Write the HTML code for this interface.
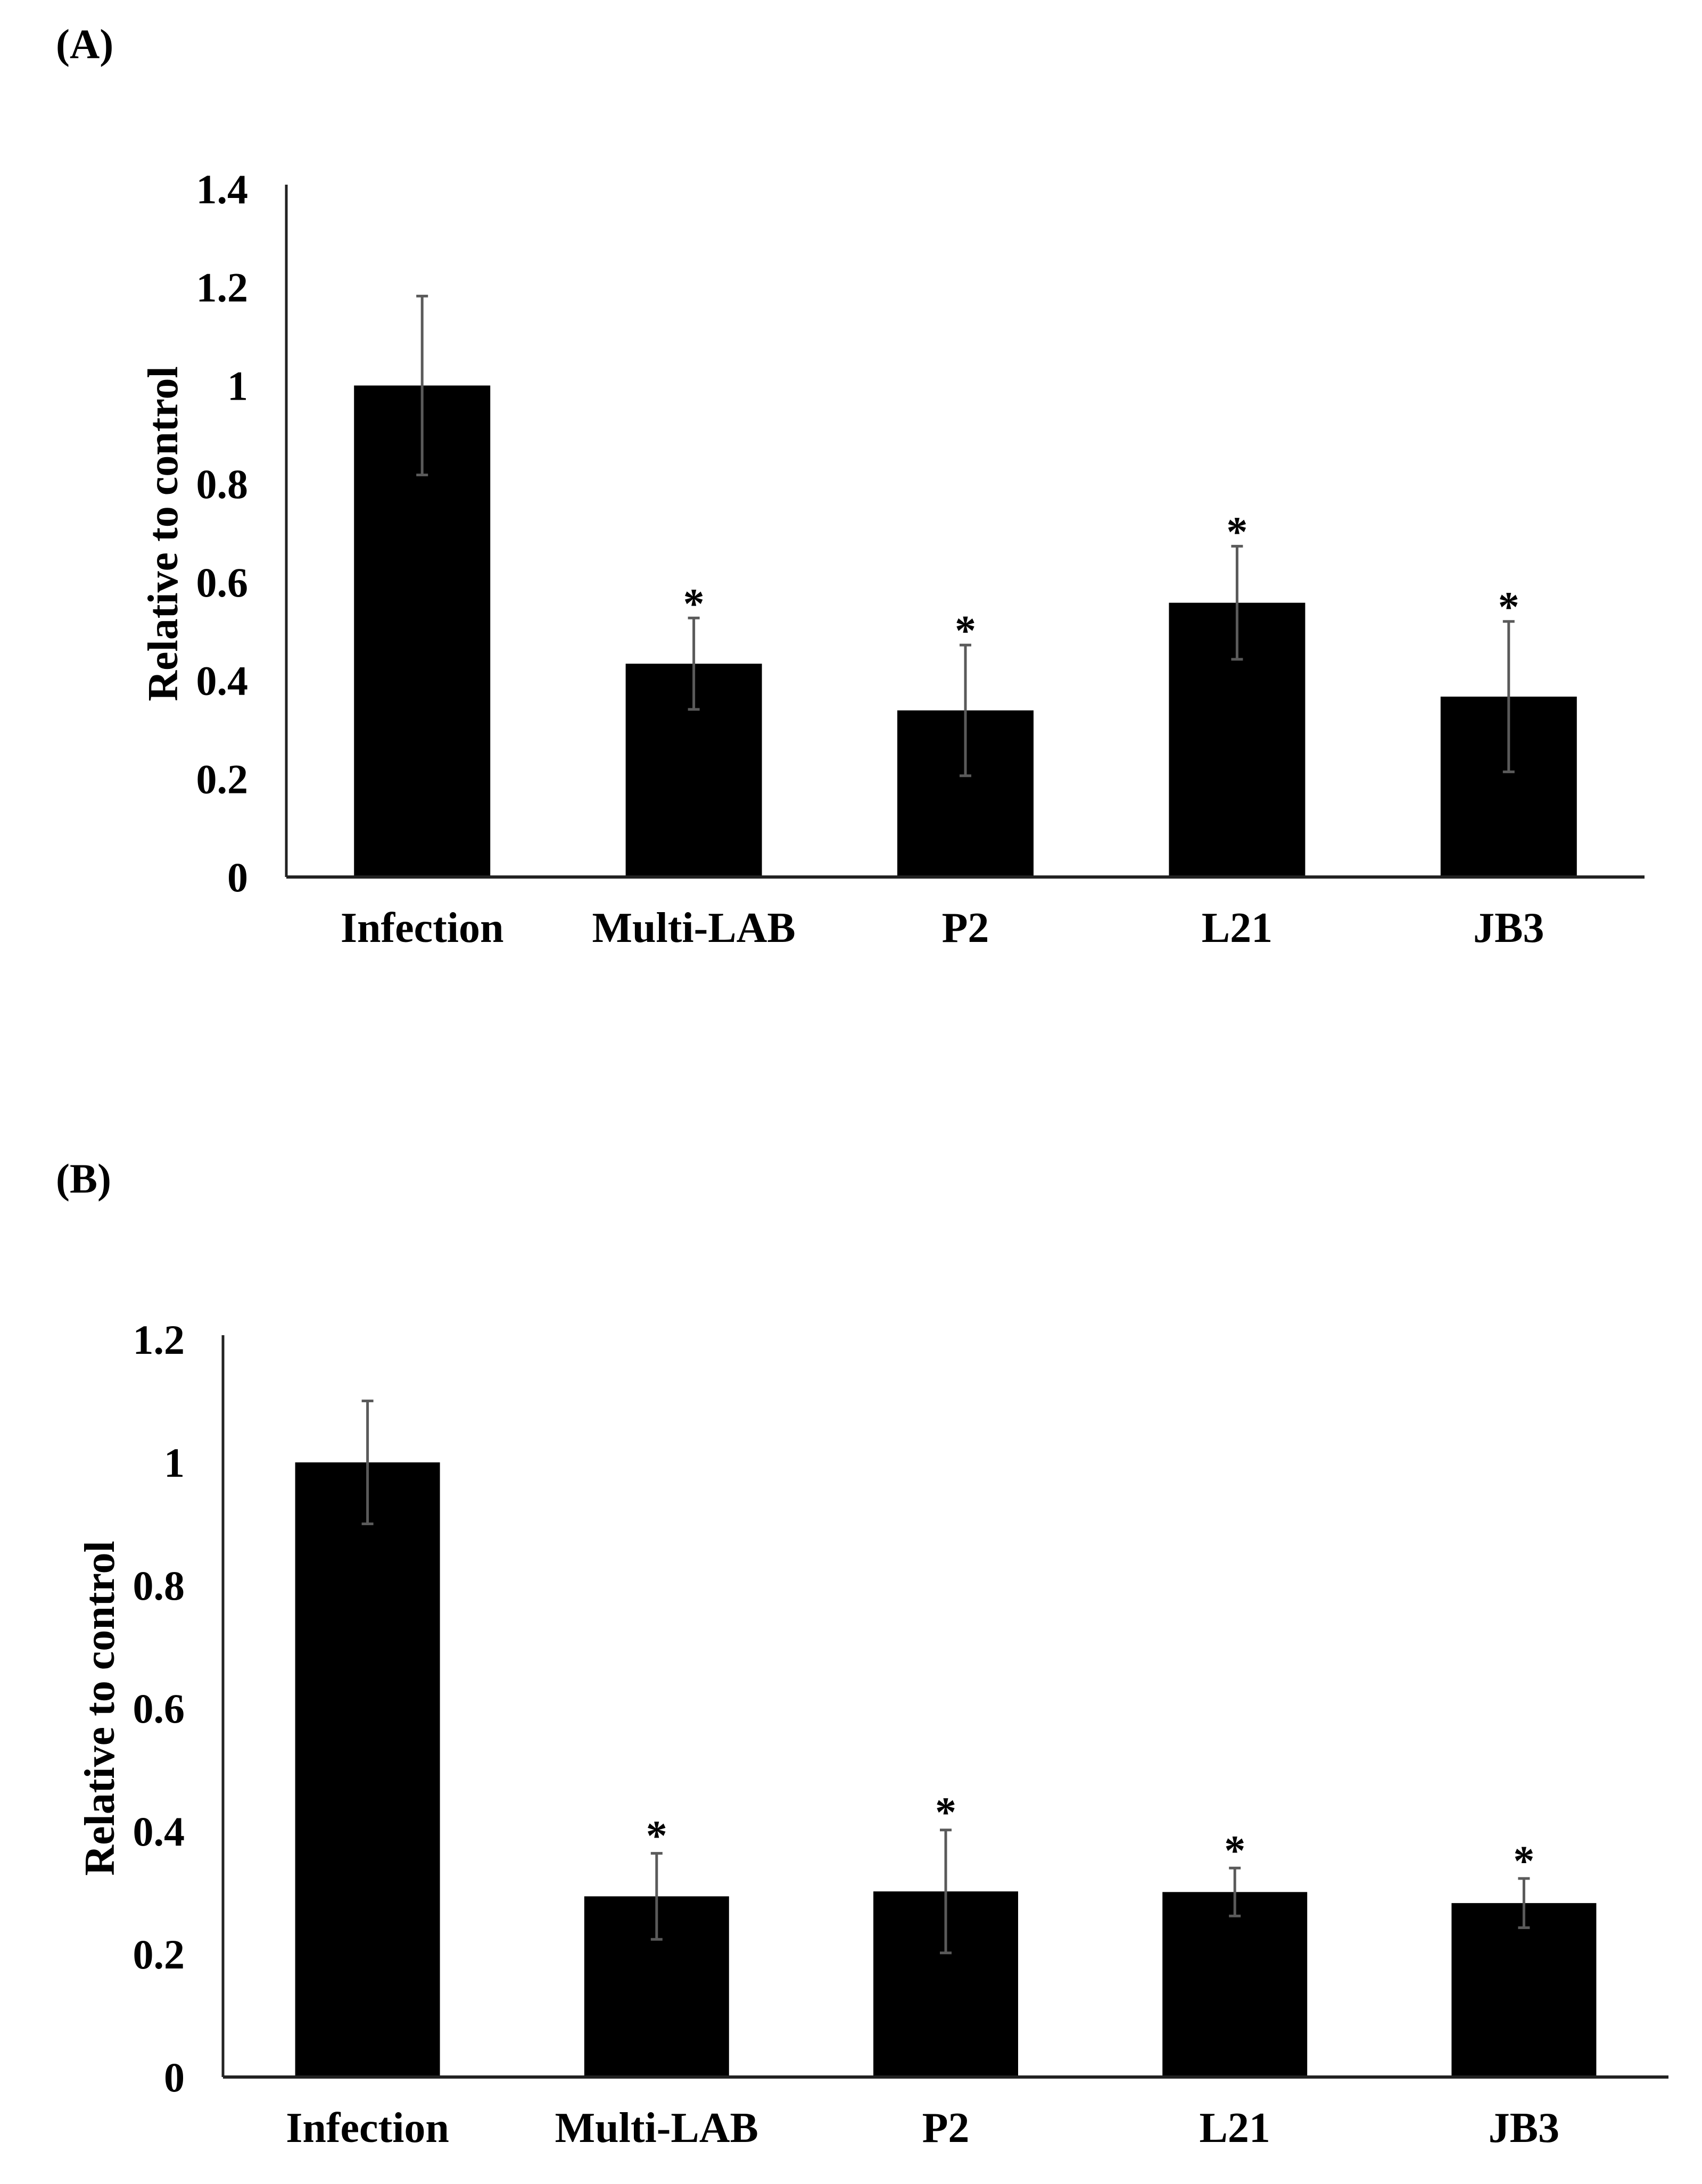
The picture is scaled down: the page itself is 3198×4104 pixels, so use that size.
<!DOCTYPE html>
<html><head><meta charset="utf-8"><style>
html,body{margin:0;padding:0;background:#fff;}
svg{display:block;}
text{font-family:"Liberation Serif",serif;font-weight:bold;fill:#000;}
</style></head><body>
<svg id="fig" width="3198" height="4104" viewBox="0 0 3198 4104">
<text x="105" y="109" font-size="78">(A)</text>
<text x="105" y="2241" font-size="78">(B)</text>
</svg>
<script>
const categories = ["Infection","Multi-LAB","P2","L21","JB3"];
const valuesA = [1.0, 0.434, 0.339, 0.558, 0.367];
const errorsA = [0.182, 0.093, 0.133, 0.115, 0.153];
const sigA = [false, true, true, true, true];
const ticksA = [0, 0.2, 0.4, 0.6, 0.8, 1, 1.2, 1.4];
const tickLabelsA = ["0","0.2","0.4","0.6","0.8","1","1.2","1.4"];
const valuesB = [1.0, 0.294, 0.302, 0.301, 0.283];
const errorsB = [0.1, 0.07, 0.1, 0.039, 0.04];
const sigB = [false, true, true, true, true];
const ticksB = [0, 0.2, 0.4, 0.6, 0.8, 1, 1.2];
const tickLabelsB = ["0","0.2","0.4","0.6","0.8","1","1.2"];

const NS = "http://www.w3.org/2000/svg";
const svg = document.getElementById("fig");
function mk(tag, attrs, parent){
  const e = document.createElementNS(NS, tag);
  for (const k in attrs) e.setAttribute(k, attrs[k]);
  (parent||svg).appendChild(e);
  return e;
}
function panel(cfg){
  const g = mk("g", {});
  
  
  const yMax = cfg.ticks[cfg.ticks.length-1];
  const y = v => cfg.y0 - (cfg.y0 - cfg.yTop) * v / yMax;
  const bandW = (cfg.x1 - cfg.x0) / cfg.cats.length;
  const xc = i => cfg.x0 + bandW * (i + 0.5);
  // ticks
  cfg.ticks.forEach((t, i) => {
    const tx = mk("text", {x: cfg.tickX, y: y(t) + 27, "font-size": 78, "text-anchor": "end"}, g);
    tx.textContent = cfg.tickLabels[i];
    
    
  });
  // bars
  cfg.vals.forEach((v, i) => {
    const r = mk("rect", {x: xc(i) - cfg.barW/2, y: y(v), width: cfg.barW, height: cfg.y0 - y(v), fill: "#000"}, g);
    
    
    const top = y(v + cfg.errs[i]), bot = y(v - cfg.errs[i]);
    const eb = mk("path", {d: `M${xc(i)},${top}V${bot}M${xc(i)-11},${top}H${xc(i)+11}M${xc(i)-11},${bot}H${xc(i)+11}`, stroke: "#5a5a5a", "stroke-width": 5, fill: "none"}, g);
    
    
    if (cfg.sig[i]) {
      const s = mk("text", {x: xc(i), y: top + cfg.starOff, "font-size": 80, "text-anchor": "middle"}, g);
      s.textContent = "*";
      
      
    }
    const cl = mk("text", {x: xc(i), y: cfg.catY, "font-size": 80, "text-anchor": "middle"}, g);
    cl.textContent = cfg.cats[i];
    
    
  });
  // axes
  const ya = mk("line", {x1: cfg.x0, y1: cfg.yTop - 8, x2: cfg.x0, y2: cfg.y0, stroke: "#222", "stroke-width": 5}, g);
  
  
  const xa = mk("line", {x1: cfg.x0, y1: cfg.y0, x2: cfg.x1, y2: cfg.y0, stroke: "#222", "stroke-width": 6}, g);
  
  
  const tt = mk("text", {x: 0, y: 0, "font-size": 80, "text-anchor": "middle", transform: `translate(${cfg.titleX},${cfg.titleY}) rotate(-90)`}, g);
  tt.textContent = "Relative to control";
  
  
}
panel({name: "panel-a-chart", cats: categories, vals: valuesA, errs: errorsA, sig: sigA,
  ticks: ticksA, tickLabels: tickLabelsA, x0: 538, x1: 3090, y0: 1648, yTop: 355,
  barW: 256, tickX: 466, catY: 1770, titleX: 333, titleY: 1003, starOff: 0});
panel({name: "panel-b-chart", cats: categories, vals: valuesB, errs: errorsB, sig: sigB,
  ticks: ticksB, tickLabels: tickLabelsB, x0: 419, x1: 3135, y0: 3903, yTop: 2517,
  barW: 272, tickX: 347, catY: 4025, titleX: 214, titleY: 3210, starOff: -6});
</script>
</body></html>
